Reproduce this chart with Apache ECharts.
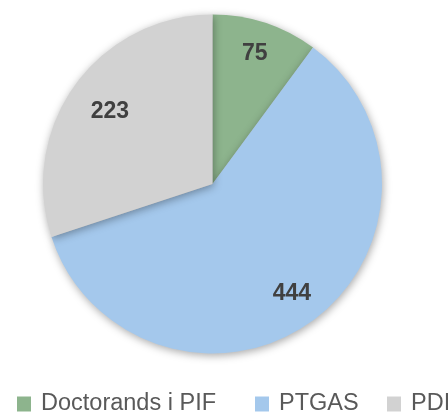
<!DOCTYPE html>
<html><head><meta charset="utf-8">
<script src="https://cdn.jsdelivr.net/npm/echarts@6/dist/echarts.min.js"></script>
<style>html,body{margin:0;padding:0;background:#fff}#c{width:448px;height:412px}</style>
</head><body><div id="c"></div>
<script>
const categories = ["Doctorands i PIF", "PTGAS", "PDI"];
const values = [75, 444, 223];
const colors = ["#8DB48D", "#A4C8EC", "#D2D2D2"];

const chart = echarts.init(document.getElementById('c'), null, {renderer: 'canvas'});
const data = categories.map((c, i) => ({name: c, value: values[i], itemStyle: {color: colors[i]}}));
const center = [212.5, 184];
const legendLefts = [12, 250, 382];
const labelOffsets = [[0, -2], [0, 0], [7, 7]];
const legendText = {fontSize: 23.5, color: '#595959', fontFamily: 'Liberation Sans', padding: [0, 0, 0, 5]};
chart.setOption({
  animation: false,
  legend: categories.map((c, i) => ({
    data: [c], left: legendLefts[i], top: 387, itemWidth: 14, itemHeight: 15, icon: 'rect',
    textStyle: legendText, selectedMode: false
  })),
  series: [
    {
      type: 'pie', center: center, radius: 169.5, startAngle: 90, clockwise: true,
      data: data, label: {show: false}, labelLine: {show: false},
      itemStyle: {borderWidth: 0, shadowBlur: 8, shadowColor: 'rgba(0,0,0,0.35)', shadowOffsetX: 1, shadowOffsetY: 2},
      emphasis: {disabled: true}
    },
    {
      type: 'pie', center: center, radius: [95, 169.5], startAngle: 90, clockwise: true, silent: true,
      legendHoverLink: false,
      data: categories.map((c, i) => ({name: c + ' ', value: values[i], label: {offset: labelOffsets[i]}})),
      itemStyle: {color: 'rgba(0,0,0,0)'},
      label: {show: true, position: 'inside', formatter: '{c}', fontSize: 23, fontWeight: 'bold', color: '#404040', fontFamily: 'Liberation Sans'},
      labelLine: {show: false},
      emphasis: {disabled: true}
    }
  ]
});
</script></body></html>
